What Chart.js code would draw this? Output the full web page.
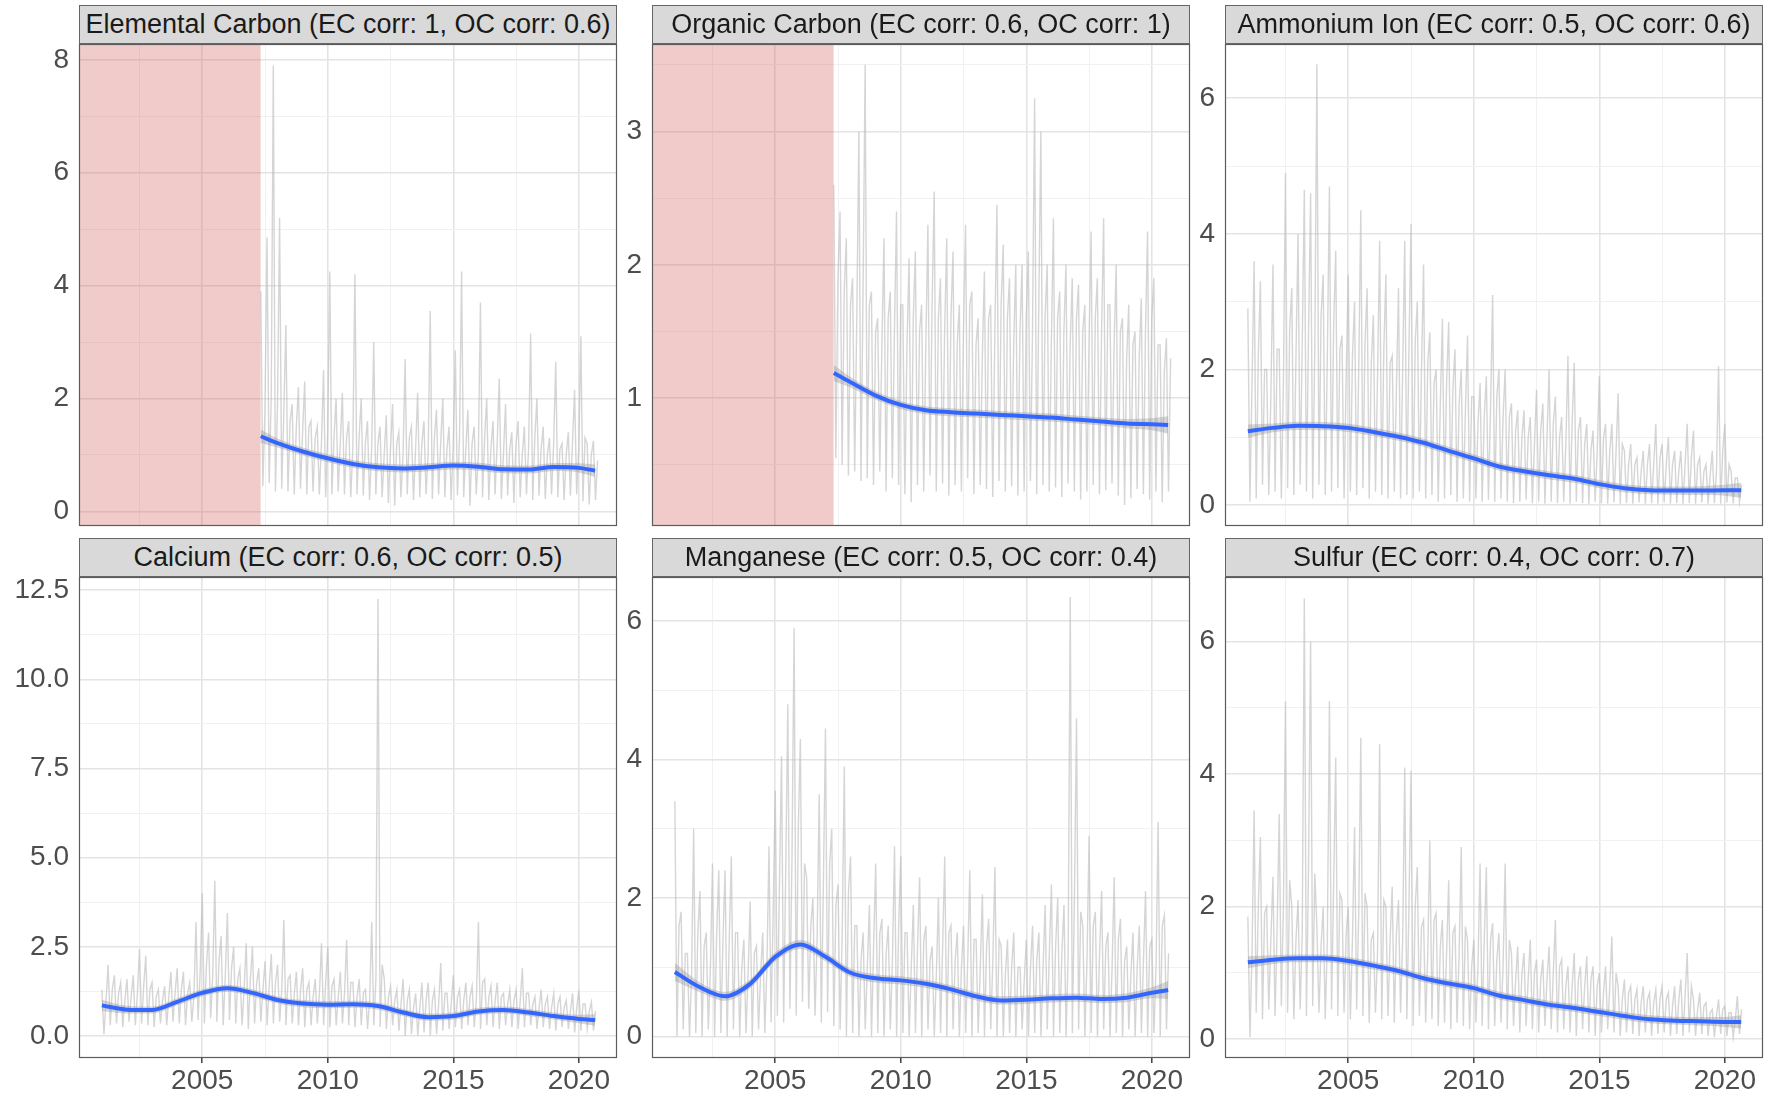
<!DOCTYPE html>
<html>
<head>
<meta charset="utf-8">
<script src="https://cdn.jsdelivr.net/npm/chart.js@4.4.1/dist/chart.umd.min.js"></script>
<style>
  html, body { margin: 0; padding: 0; background: #fff; overflow: hidden; }
  #wrap { position: relative; width: 1772px; height: 1095px; }
  canvas { position: absolute; }
  .strip {
    position: absolute; box-sizing: border-box; z-index: 2;
    background: #d9d9d9; border: 1px solid #666;
    font: 27px "Liberation Sans", Arial, Helvetica, sans-serif;
    color: #1a1a1a; text-align: center; white-space: nowrap;
  }
</style>
</head>
<body>
<div id="wrap"></div>
<script>
// three readings per quarter year: peak, trough, typical level
const step = 0.25;
const fullStart = 2001.0;
const carbonStart = 2007.33;
const shadeEnd = 2007.33;

const yearTicks = [2002.5, 2005, 2007.5, 2010, 2012.5, 2015, 2017.5, 2020];
const yearLabels = ['', '2005', '', '2010', '', '2015', '', '2020'];

// Elemental Carbon
const ecHigh = [3.9, 4.85, 7.9, 5.2, 3.3, 1.9, 2.2, 2.3, 1.6, 1.5,
  2.5, 4.25, 2.0, 2.1, 1.6, 4.2, 2.0, 1.6, 3.0, 1.5,
  1.7, 1.9, 1.4, 2.7, 1.5, 2.1, 1.6, 3.55, 1.8, 2.0,
  1.5, 2.85, 4.25, 1.8, 1.5, 3.7, 2.0, 1.6, 2.35, 1.9,
  1.4, 1.6, 1.5, 3.15, 2.0, 1.5, 1.3, 2.65, 1.2, 1.4,
  2.15, 3.1, 1.2, 1.25];
const ecLow = [0.45, 0.5, 0.35, 0.4, 0.35, 0.3, 0.4, 0.3, 0.35, 0.3,
  0.25, 0.3, 0.35, 0.3, 0.25, 0.3, 0.28, 0.2, 0.3, 0.25,
  0.15, 0.1, 0.25, 0.3, 0.2, 0.25, 0.3, 0.22, 0.3, 0.25,
  0.2, 0.28, 0.25, 0.1, 0.3, 0.25, 0.2, 0.3, 0.22, 0.28,
  0.15, 0.25, 0.3, 0.2, 0.28, 0.22, 0.3, 0.25, 0.2, 0.28,
  0.3, 0.18, 0.12, 0.2];
const ecMid = [1.8, 2.0, 1.9, 1.7, 1.6, 1.5, 1.4, 1.5, 1.3, 1.2,
  1.4, 1.3, 1.2, 1.3, 1.1, 1.3, 1.2, 1.1, 1.2, 1.0,
  1.1, 1.2, 1.0, 1.3, 1.1, 1.2, 1.0, 1.3, 1.2, 1.1,
  1.2, 1.3, 1.1, 1.2, 1.0, 1.3, 1.1, 1.2, 1.0, 1.1,
  1.2, 1.0, 1.1, 1.3, 1.1, 1.0, 1.2, 1.1, 1.0, 1.2,
  1.1, 1.3, 1.0, 0.9];
const carbonFitYears = [2007.33, 2008, 2009, 2010, 2011, 2012, 2013, 2014, 2015, 2016, 2017, 2018, 2019, 2020, 2020.65];
const ecFit = [1.33, 1.21, 1.06, 0.94, 0.84, 0.78, 0.76, 0.78, 0.81, 0.79, 0.745, 0.74, 0.785, 0.77, 0.72];
const ecSe = [0.12, 0.08, 0.07, 0.07, 0.07, 0.07, 0.07, 0.07, 0.07, 0.07, 0.07, 0.07, 0.07, 0.08, 0.11];
const ecYTicks = [0, 1, 2, 3, 4, 5, 6, 7, 8];
const ecYLabels = ['0', '', '2', '', '4', '', '6', '', '8'];

// Organic Carbon
const ocHigh = [2.6, 2.4, 2.2, 1.9, 3.0, 3.5, 1.8, 1.6, 2.2, 1.8,
  2.4, 1.7, 2.05, 2.1, 1.7, 2.3, 2.55, 1.9, 2.2, 2.1,
  1.7, 2.3, 1.8, 1.6, 1.95, 1.7, 2.45, 2.15, 1.9, 2.0,
  2.0, 2.1, 3.25, 3.0, 2.0, 2.35, 1.8, 2.0, 1.9, 1.85,
  1.7, 2.25, 1.9, 2.35, 1.7, 2.0, 1.6, 1.7, 1.5, 1.75,
  2.25, 1.9, 1.4, 1.45];
const ocLow = [0.55, 0.5, 0.42, 0.45, 0.38, 0.4, 0.35, 0.45, 0.3, 0.4,
  0.35, 0.28, 0.22, 0.35, 0.3, 0.42, 0.3, 0.36, 0.27, 0.35,
  0.3, 0.4, 0.28, 0.35, 0.32, 0.26, 0.38, 0.3, 0.34, 0.27,
  0.3, 0.38, 0.28, 0.35, 0.3, 0.33, 0.26, 0.36, 0.3, 0.24,
  0.3, 0.35, 0.28, 0.31, 0.36, 0.27, 0.2, 0.25, 0.32, 0.28,
  0.24, 0.3, 0.22, 0.3];
const ocMid = [1.9, 1.8, 1.7, 1.6, 1.8, 1.7, 1.5, 1.4, 1.6, 1.5,
  1.7, 1.4, 1.6, 1.5, 1.4, 1.7, 1.6, 1.5, 1.6, 1.4,
  1.5, 1.7, 1.4, 1.3, 1.6, 1.5, 1.7, 1.6, 1.4, 1.5,
  1.6, 1.5, 1.7, 1.6, 1.4, 1.6, 1.5, 1.4, 1.6, 1.5,
  1.4, 1.6, 1.5, 1.7, 1.4, 1.5, 1.3, 1.4, 1.3, 1.5,
  1.6, 1.4, 1.2, 1.3];
const ocFit = [1.19, 1.12, 1.02, 0.95, 0.91, 0.895, 0.885, 0.875, 0.865, 0.855, 0.84, 0.825, 0.81, 0.805, 0.80];
const ocSe = [0.06, 0.04, 0.032, 0.03, 0.03, 0.03, 0.03, 0.03, 0.03, 0.03, 0.03, 0.03, 0.035, 0.045, 0.065];
const ocYTicks = [0.5, 1, 1.5, 2, 2.5, 3, 3.5];
const ocYLabels = ['', '1', '', '2', '', '3', ''];

const fullFitYears = [2001, 2002, 2003, 2004, 2005, 2006, 2007, 2008, 2009, 2010, 2011,
  2012, 2013, 2014, 2015, 2016, 2017, 2018, 2019, 2020, 2020.65];

// Ammonium Ion
const nh4High = [2.9, 3.6, 3.3, 2.0, 3.55, 2.3, 4.9, 3.2, 4.0, 4.65,
  4.6, 6.5, 3.4, 4.7, 3.75, 2.5, 3.4, 3.0, 4.35, 3.2,
  2.8, 3.9, 3.4, 2.2, 3.2, 3.9, 4.15, 3.0, 3.55, 2.55,
  2.0, 2.75, 2.7, 2.3, 2.0, 2.5, 1.6, 1.8, 1.9, 3.1,
  2.0, 2.0, 1.5, 1.4, 1.4, 1.3, 1.7, 1.5, 2.0, 1.6,
  1.3, 2.2, 2.1, 1.3, 1.2, 1.1, 1.9, 1.2, 1.2, 1.65,
  0.8, 0.9, 0.7, 0.8, 0.9, 1.2, 0.9, 1.0, 0.8, 0.8,
  1.2, 1.1, 0.7, 0.6, 0.8, 2.05, 1.2, 0.5, 0.4];
const nh4Low = [0.05, 0.1, 0.3, 0.15, 0.2, 0.1, 0.25, 0.15, 0.3, 0.2,
  0.1, 0.3, 0.15, 0.2, 0.25, 0.1, 0.2, 0.15, 0.25, 0.1,
  0.2, 0.15, 0.1, 0.2, 0.1, 0.15, 0.1, 0.2, 0.1, 0.15,
  0.05, 0.1, 0.15, 0.05, 0.1, 0.05, 0.1, 0.05, 0.08, 0.05,
  0.1, 0.05, 0.03, 0.05, 0.08, 0.03, 0.05, 0.02, 0.05, 0.03,
  0.05, 0.02, 0.05, 0.03, 0.02, 0.05, 0.03, 0.02, 0.04, 0.02,
  0.03, 0.02, 0.04, 0.02, 0.03, 0.02, 0.04, 0.02, 0.03, 0.02,
  0.03, 0.02, 0.04, 0.02, 0.03, 0.02, 0.04, 0.03, 0.05];
const nh4Mid = [1.8, 2.2, 2.0, 1.6, 2.3, 1.8, 2.6, 2.2, 2.4, 2.5,
  2.3, 2.8, 2.2, 2.6, 2.3, 1.9, 2.2, 2.0, 2.4, 2.1,
  1.9, 2.3, 2.1, 1.7, 2.0, 2.3, 2.4, 2.0, 2.1, 1.8,
  1.5, 1.8, 1.7, 1.5, 1.4, 1.6, 1.2, 1.3, 1.4, 1.6,
  1.3, 1.3, 1.1, 1.0, 1.0, 0.9, 1.1, 1.0, 1.2, 1.0,
  0.9, 1.2, 1.1, 0.9, 0.8, 0.8, 1.0, 0.8, 0.8, 0.9,
  0.6, 0.6, 0.5, 0.6, 0.6, 0.7, 0.6, 0.6, 0.5, 0.6,
  0.7, 0.6, 0.5, 0.45, 0.5, 0.8, 0.6, 0.4, 0.3];
const nh4Fit = [1.09, 1.14, 1.17, 1.165, 1.14, 1.08, 1.01, 0.92, 0.80, 0.69, 0.57,
  0.50, 0.44, 0.39, 0.31, 0.25, 0.22, 0.215, 0.215, 0.22, 0.22];
const nh4Se = [0.1, 0.065, 0.06, 0.06, 0.06, 0.06, 0.06, 0.06, 0.06, 0.06, 0.06,
  0.06, 0.06, 0.06, 0.06, 0.06, 0.06, 0.06, 0.065, 0.08, 0.11];
const nh4YTicks = [0, 1, 2, 3, 4, 5, 6];
const nh4YLabels = ['0', '', '2', '', '4', '', '6'];

// Calcium
const caHigh = [1.3, 2.0, 1.7, 1.5, 1.6, 1.7, 2.45, 2.25, 1.5, 1.3,
  1.4, 1.8, 1.9, 1.8, 1.5, 3.2, 4.0, 2.9, 4.35, 2.8,
  3.45, 2.5, 1.9, 2.6, 2.5, 1.9, 2.1, 2.3, 2.0, 3.25,
  1.7, 1.8, 1.9, 1.5, 1.6, 2.6, 2.5, 1.6, 1.8, 2.7,
  1.5, 1.6, 1.3, 3.2, 12.25, 1.6, 1.4, 1.3, 1.6, 1.3,
  1.2, 1.5, 1.5, 1.3, 2.05, 1.2, 1.7, 1.3, 1.5, 1.4,
  3.2, 1.6, 1.4, 1.5, 1.2, 1.3, 1.3, 1.9, 1.2, 1.1,
  1.3, 1.1, 1.2, 1.1, 1.0, 1.2, 1.3, 0.9, 0.95];
const caLow = [0.05, 0.3, 0.35, 0.25, 0.4, 0.3, 0.35, 0.3, 0.25, 0.35,
  0.3, 0.4, 0.35, 0.3, 0.4, 0.45, 0.35, 0.5, 0.4, 0.3,
  0.45, 0.35, 0.3, 0.2, 0.35, 0.4, 0.3, 0.35, 0.4, 0.3,
  0.35, 0.3, 0.25, 0.3, 0.35, 0.3, 0.25, 0.3, 0.35, 0.3,
  0.25, 0.3, 0.2, 0.3, 0.25, 0.2, 0.3, 0.15, 0.0, 0.05,
  0.0, 0.1, 0.0, 0.05, 0.15, 0.2, 0.25, 0.2, 0.3, 0.25,
  0.2, 0.3, 0.25, 0.2, 0.3, 0.25, 0.2, 0.25, 0.3, 0.2,
  0.25, 0.2, 0.15, 0.25, 0.2, 0.1, 0.15, 0.2, 0.15];
const caMid = [1.0, 1.3, 1.2, 1.0, 1.1, 1.2, 1.4, 1.3, 1.1, 1.0,
  1.1, 1.2, 1.3, 1.2, 1.1, 1.8, 2.0, 1.7, 2.1, 1.7,
  1.9, 1.6, 1.3, 1.6, 1.5, 1.3, 1.4, 1.5, 1.3, 1.6,
  1.2, 1.3, 1.3, 1.1, 1.2, 1.5, 1.4, 1.1, 1.2, 1.5,
  1.1, 1.2, 1.0, 1.6, 2.0, 1.1, 1.0, 0.9, 1.0, 0.8,
  0.8, 1.0, 1.0, 0.9, 1.2, 0.9, 1.1, 1.0, 1.1, 1.0,
  1.5, 1.1, 1.0, 1.1, 0.9, 1.0, 1.0, 1.2, 0.9, 0.8,
  0.9, 0.8, 0.9, 0.8, 0.7, 0.8, 0.9, 0.7, 0.7];
const caFit = [0.86, 0.74, 0.73, 0.96, 1.21, 1.34, 1.21, 1.01, 0.91, 0.88, 0.89,
  0.84, 0.66, 0.53, 0.56, 0.69, 0.73, 0.66, 0.56, 0.48, 0.45];
const caSe = [0.16, 0.11, 0.1, 0.1, 0.1, 0.1, 0.1, 0.1, 0.1, 0.1, 0.1,
  0.1, 0.1, 0.1, 0.1, 0.1, 0.1, 0.1, 0.1, 0.12, 0.16];
const caYTicks = [0, 1.25, 2.5, 3.75, 5, 6.25, 7.5, 8.75, 10, 11.25, 12.5];
const caYLabels = ['0.0', '', '2.5', '', '5.0', '', '7.5', '', '10.0', '', '12.5'];

// Manganese
const mnHigh = [3.4, 1.8, 1.2, 3.0, 2.1, 1.5, 2.5, 2.4, 2.4, 2.6,
  1.5, 1.4, 1.95, 1.3, 1.5, 2.75, 3.55, 4.05, 4.8, 5.9,
  4.3, 2.3, 2.0, 3.5, 4.45, 3.0, 2.2, 3.9, 2.6, 1.6,
  1.5, 1.9, 2.5, 1.7, 1.6, 2.75, 2.6, 1.5, 1.9, 2.3,
  1.6, 1.3, 2.0, 2.6, 1.6, 1.5, 1.6, 2.4, 1.4, 2.05,
  1.7, 2.45, 1.3, 1.4, 1.5, 1.0, 1.4, 1.6, 1.5, 1.9,
  2.2, 2.0, 1.9, 6.35, 4.6, 1.6, 2.9, 1.8, 2.1, 1.5,
  2.3, 1.7, 1.3, 1.5, 1.6, 2.1, 1.4, 3.1, 1.75];
const mnLow = [0.0, 0.1, 0.0, 0.05, 0.0, 0.1, 0.0, 0.05, 0.0, 0.1,
  0.0, 0.05, 0.0, 0.1, 0.05, 0.2, 0.3, 0.2, 0.4, 0.3,
  0.5, 0.4, 0.3, 0.2, 0.35, 0.15, 0.1, 0.0, 0.05, 0.0,
  0.1, 0.0, 0.05, 0.0, 0.1, 0.0, 0.05, 0.0, 0.05, 0.0,
  0.1, 0.0, 0.05, 0.0, 0.1, 0.0, 0.05, 0.0, 0.05, 0.0,
  0.1, 0.0, 0.0, 0.05, 0.0, 0.1, 0.0, 0.05, 0.0, 0.1,
  0.0, 0.05, 0.0, 0.05, 0.1, 0.0, 0.05, 0.0, 0.1, 0.0,
  0.05, 0.0, 0.1, 0.0, 0.05, 0.0, 0.05, 0.0, 0.1];
const mnMid = [1.6, 1.2, 0.9, 1.5, 1.3, 1.0, 1.5, 1.4, 1.4, 1.5,
  1.0, 0.9, 1.2, 0.9, 1.0, 1.8, 2.2, 2.4, 2.6, 3.0,
  2.5, 1.6, 1.4, 2.2, 2.5, 1.9, 1.5, 2.1, 1.6, 1.1,
  1.0, 1.3, 1.5, 1.2, 1.1, 1.6, 1.5, 1.0, 1.3, 1.4,
  1.1, 0.9, 1.3, 1.5, 1.1, 1.0, 1.1, 1.4, 1.0, 1.3,
  1.1, 1.4, 0.9, 1.0, 1.0, 0.8, 1.0, 1.1, 1.0, 1.2,
  1.3, 1.2, 1.2, 2.0, 1.8, 1.1, 1.6, 1.2, 1.3, 1.0,
  1.4, 1.1, 0.9, 1.0, 1.1, 1.3, 1.0, 1.6, 1.2];
const mnFit = [0.93, 0.71, 0.58, 0.76, 1.15, 1.33, 1.15, 0.92, 0.84, 0.81, 0.76,
  0.68, 0.58, 0.52, 0.53, 0.55, 0.56, 0.54, 0.56, 0.63, 0.67];
const mnSe = [0.13, 0.07, 0.065, 0.065, 0.065, 0.065, 0.065, 0.06, 0.06, 0.06, 0.06,
  0.06, 0.06, 0.06, 0.06, 0.06, 0.06, 0.06, 0.065, 0.08, 0.13];
const mnYTicks = [0, 1, 2, 3, 4, 5, 6];
const mnYLabels = ['0', '', '2', '', '4', '', '6'];

// Sulfur
const sHigh = [1.85, 3.45, 3.05, 2.0, 2.45, 3.4, 5.1, 2.0, 2.1, 6.65,
  6.0, 1.7, 2.0, 5.1, 4.25, 2.1, 2.0, 3.2, 4.55, 2.0,
  1.6, 4.45, 2.0, 2.3, 2.1, 4.1, 4.05, 2.6, 1.8, 3.0,
  1.9, 1.8, 2.4, 1.7, 2.9, 1.5, 1.5, 2.65, 2.6, 1.75,
  1.6, 2.65, 1.3, 1.4, 1.3, 1.5, 1.2, 1.2, 1.4, 1.8,
  1.2, 1.1, 1.3, 1.1, 1.25, 1.1, 1.0, 1.1, 1.55, 0.8,
  0.9, 0.8, 0.75, 0.8, 0.7, 0.75, 0.8, 0.7, 0.8, 0.9,
  1.3, 0.6, 0.7, 0.55, 0.45, 0.6, 0.5, 0.4, 0.65];
const sLow = [0.03, 0.4, 0.3, 0.45, 0.35, 0.5, 0.4, 0.3, 0.45, 0.35,
  0.5, 0.4, 0.3, 0.45, 0.35, 0.4, 0.3, 0.45, 0.35, 0.25,
  0.4, 0.3, 0.35, 0.25, 0.4, 0.3, 0.2, 0.35, 0.25, 0.3,
  0.2, 0.25, 0.15, 0.25, 0.2, 0.15, 0.25, 0.2, 0.15, 0.2,
  0.25, 0.15, 0.2, 0.1, 0.2, 0.15, 0.1, 0.2, 0.15, 0.1,
  0.15, 0.1, 0.05, 0.15, 0.1, 0.05, 0.1, 0.15, 0.1, 0.05,
  0.1, 0.08, 0.05, 0.1, 0.05, 0.08, 0.1, 0.05, 0.08, 0.05,
  0.1, 0.05, 0.08, 0.05, 0.03, 0.08, 0.05, 0.03, 0.08];
const sMid = [1.3, 2.0, 1.9, 1.5, 1.7, 2.0, 2.4, 1.5, 1.6, 2.6,
  2.5, 1.4, 1.5, 2.3, 2.2, 1.6, 1.5, 1.9, 2.2, 1.5,
  1.3, 2.1, 1.5, 1.6, 1.5, 2.0, 2.0, 1.7, 1.3, 1.8,
  1.4, 1.3, 1.6, 1.3, 1.7, 1.1, 1.1, 1.5, 1.5, 1.2,
  1.1, 1.5, 0.9, 1.0, 0.9, 1.0, 0.9, 0.9, 1.0, 1.1,
  0.8, 0.8, 0.9, 0.8, 0.9, 0.8, 0.7, 0.8, 1.0, 0.6,
  0.7, 0.6, 0.55, 0.6, 0.55, 0.6, 0.6, 0.5, 0.6, 0.65,
  0.8, 0.45, 0.5, 0.4, 0.35, 0.45, 0.4, 0.3, 0.45];
const sFit = [1.16, 1.20, 1.22, 1.22, 1.18, 1.11, 1.03, 0.92, 0.84, 0.77, 0.66,
  0.59, 0.52, 0.47, 0.41, 0.35, 0.30, 0.28, 0.27, 0.26, 0.26];
const sSe = [0.09, 0.065, 0.06, 0.06, 0.06, 0.06, 0.06, 0.06, 0.06, 0.06, 0.06,
  0.06, 0.06, 0.06, 0.06, 0.06, 0.06, 0.06, 0.065, 0.075, 0.1];
const sYTicks = [0, 1, 2, 3, 4, 5, 6];
const sYLabels = ['0', '', '2', '', '4', '', '6'];

const panels = [
  {title: 'Elemental Carbon (EC corr: 1, OC corr: 0.6)', start: carbonStart, high: ecHigh, low: ecLow, mid: ecMid,
   fitYears: carbonFitYears, fit: ecFit, se: ecSe, yMin: -0.26, yMax: 8.28, yTicks: ecYTicks, yLabels: ecYLabels, shadeTo: shadeEnd},
  {title: 'Organic Carbon (EC corr: 0.6, OC corr: 1)', start: carbonStart, high: ocHigh, low: ocLow, mid: ocMid,
   fitYears: carbonFitYears, fit: ocFit, se: ocSe, yMin: 0.042, yMax: 3.656, yTicks: ocYTicks, yLabels: ocYLabels, shadeTo: shadeEnd},
  {title: 'Ammonium Ion (EC corr: 0.5, OC corr: 0.6)', start: fullStart, high: nh4High, low: nh4Low, mid: nh4Mid,
   fitYears: fullFitYears, fit: nh4Fit, se: nh4Se, yMin: -0.307, yMax: 6.80, yTicks: nh4YTicks, yLabels: nh4YLabels},
  {title: 'Calcium (EC corr: 0.6, OC corr: 0.5)', start: fullStart, high: caHigh, low: caLow, mid: caMid,
   fitYears: fullFitYears, fit: caFit, se: caSe, yMin: -0.616, yMax: 12.87, yTicks: caYTicks, yLabels: caYLabels},
  {title: 'Manganese (EC corr: 0.5, OC corr: 0.4)', start: fullStart, high: mnHigh, low: mnLow, mid: mnMid,
   fitYears: fullFitYears, fit: mnFit, se: mnSe, yMin: -0.312, yMax: 6.64, yTicks: mnYTicks, yLabels: mnYLabels},
  {title: 'Sulfur (EC corr: 0.4, OC corr: 0.7)', start: fullStart, high: sHigh, low: sLow, mid: sMid,
   fitYears: fullFitYears, fit: sFit, se: sSe, yMin: -0.284, yMax: 6.976, yTicks: sYTicks, yLabels: sYLabels}
];

// facet geometry
const xMin = 2000.09, xMax = 2021.52;
const colLeft = [79, 652, 1225];
const panelW = 538;
const rowTop = [44, 577];
const rowH = [482, 481];
const stripTop = [5, 538];
const stripH = 39;
const margin = 30;
const xAxisH = 37;

const gridMajor = '#e4e4e4', gridMinor = '#f1f1f1';

Chart.defaults.font.family = "'Liberation Sans', Arial, Helvetica, sans-serif";
Chart.defaults.font.size = 28;
Chart.defaults.color = '#4d4d4d';
Chart.defaults.elements.point.radius = 0;
Chart.defaults.elements.point.hoverRadius = 0;

const panelBorder = {
  id: 'panelBorder',
  afterDraw(chart) {
    const {ctx, chartArea: a} = chart;
    ctx.save();
    ctx.strokeStyle = '#5c5c5c';
    ctx.lineWidth = 1.2;
    ctx.strokeRect(a.left + 0.5, a.top + 0.5, a.right - a.left - 1, a.bottom - a.top - 1);
    ctx.restore();
  }
};

const wrap = document.getElementById('wrap');

function makePanel(p, idx) {
  const col = idx % 3, row = Math.floor(idx / 3);
  const bottomRow = row === 1;
  const yW = col === 0 ? colLeft[0] : 35;
  const bottomH = bottomRow ? xAxisH : margin;

  const canvas = document.createElement('canvas');
  canvas.width = yW + panelW + margin;
  canvas.height = margin + rowH[row] + bottomH;
  canvas.style.left = (colLeft[col] - yW) + 'px';
  canvas.style.top = (rowTop[row] - margin) + 'px';
  wrap.appendChild(canvas);

  const strip = document.createElement('div');
  strip.className = 'strip';
  strip.style.left = colLeft[col] + 'px';
  strip.style.top = stripTop[row] + 'px';
  strip.style.width = panelW + 'px';
  strip.style.height = stripH + 'px';
  strip.style.lineHeight = (stripH - 2) + 'px';
  strip.textContent = p.title;
  wrap.appendChild(strip);

  // raw series: peak, trough, typical level inside each quarter
  const raw = [];
  p.high.forEach((h, i) => {
    const t = p.start + i * step;
    raw.push({x: t, y: h});
    raw.push({x: t + step / 3, y: p.low[i]});
    raw.push({x: t + 2 * step / 3, y: p.mid[i]});
  });
  const fit = p.fitYears.map((t, i) => ({x: t, y: p.fit[i]}));
  const upper = p.fitYears.map((t, i) => ({x: t, y: p.fit[i] + p.se[i]}));
  const lower = p.fitYears.map((t, i) => ({x: t, y: p.fit[i] - p.se[i]}));

  const datasets = [
    {data: fit, borderColor: '#3366ff', borderWidth: 4, cubicInterpolationMode: 'monotone', order: 0},
    {data: upper, borderColor: 'transparent', borderWidth: 0, fill: '+1',
     backgroundColor: 'rgba(153,153,153,0.4)', cubicInterpolationMode: 'monotone', order: 1},
    {data: lower, borderColor: 'transparent', borderWidth: 0, cubicInterpolationMode: 'monotone', order: 2},
    {data: raw, borderColor: 'rgba(185,185,185,0.6)', borderWidth: 1.4, order: 3}
  ];
  if (p.shadeTo) {
    datasets.push({
      data: [{x: xMin, y: p.yMax}, {x: p.shadeTo, y: p.yMax}],
      borderColor: 'transparent', borderWidth: 0, fill: 'start',
      backgroundColor: 'rgba(210,90,90,0.32)', order: 4
    });
  }

  new Chart(canvas, {
    type: 'line',
    data: {datasets},
    options: {
      responsive: false,
      animation: false,
      events: [],
      layout: {padding: {left: 0, top: margin, right: margin, bottom: bottomRow ? 0 : margin}},
      plugins: {legend: {display: false}, tooltip: {enabled: false}},
      scales: {
        x: {
          type: 'linear', min: xMin, max: xMax,
          afterBuildTicks: s => { s.ticks = yearTicks.map(v => ({value: v})); },
          afterFit: s => { s.height = bottomRow ? xAxisH : 0; },
          border: {display: false},
          grid: {
            color: c => yearLabels[c.index] ? gridMajor : gridMinor,
            lineWidth: c => yearLabels[c.index] ? 1.6 : 1,
            drawTicks: bottomRow,
            tickLength: 5,
            tickColor: c => yearLabels[c.index] ? '#333' : 'rgba(0,0,0,0)',
            tickWidth: 1.4
          },
          ticks: {
            display: bottomRow, autoSkip: false, maxRotation: 0, padding: 1,
            callback: (v, i) => yearLabels[i]
          }
        },
        y: {
          type: 'linear', min: p.yMin, max: p.yMax,
          afterBuildTicks: s => { s.ticks = p.yTicks.map(v => ({value: v})); },
          afterFit: s => { s.width = yW; },
          border: {display: false},
          grid: {
            color: c => p.yLabels[c.index] ? gridMajor : gridMinor,
            lineWidth: c => p.yLabels[c.index] ? 1.6 : 1,
            drawTicks: false
          },
          ticks: {
            autoSkip: false, padding: 10,
            callback: (v, i) => p.yLabels[i]
          }
        }
      }
    },
    plugins: [panelBorder]
  });
}

panels.forEach(makePanel);
</script>
</body>
</html>
